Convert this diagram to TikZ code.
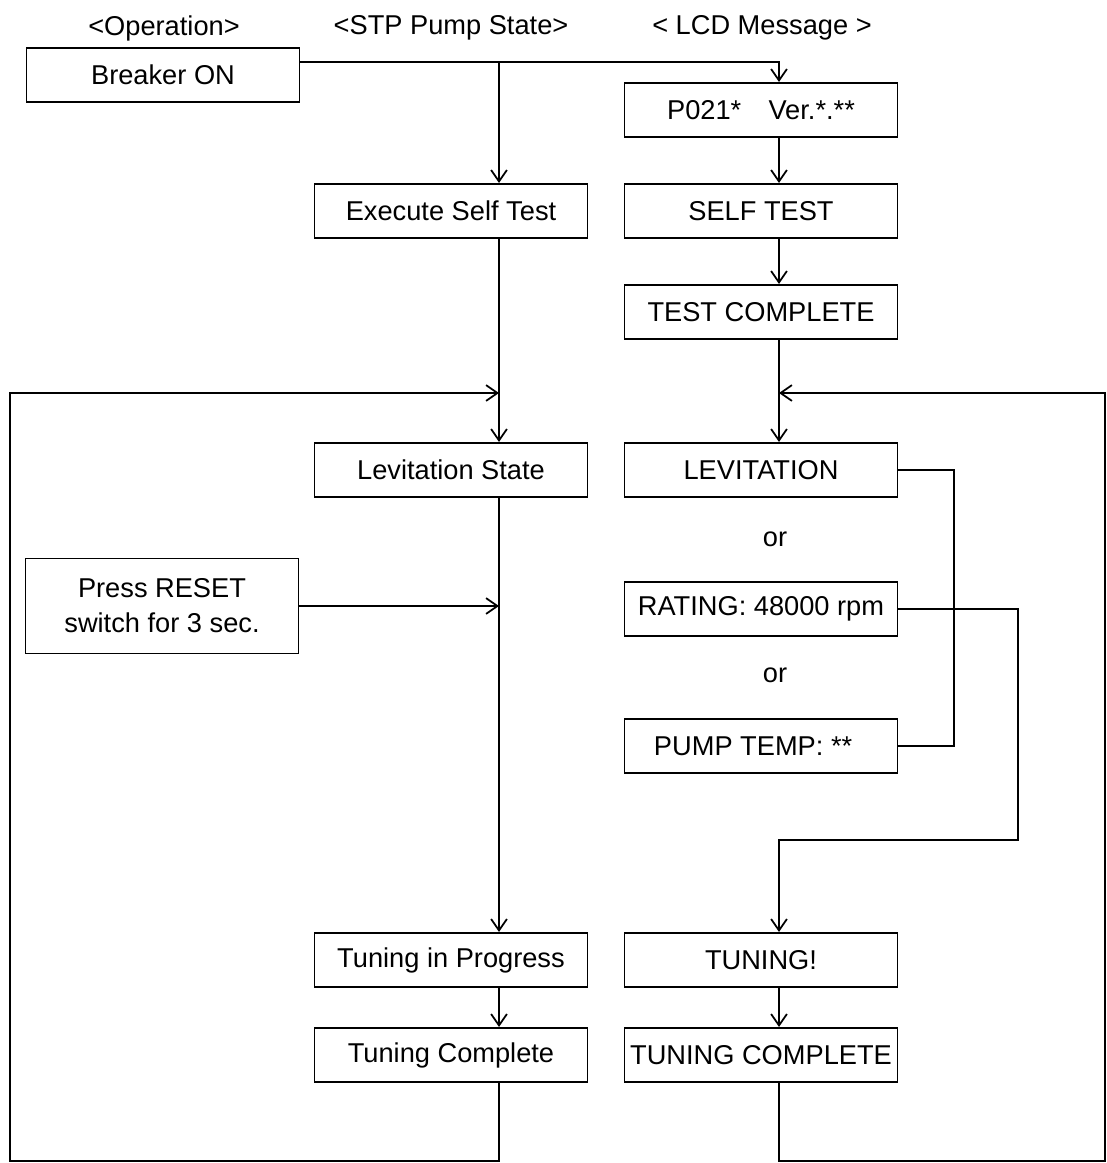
\documentclass[tikz,border=0pt]{standalone}
\usepackage{fontspec}
\setmainfont{Liberation Sans}
\usepackage{tikz}
\usetikzlibrary{arrows.meta, positioning, calc}

\begin{document}
\begin{tikzpicture}[x=0.02cm, y=-0.02cm, line width=1pt,
    font=\fontsize{15.5}{20}\selectfont,
    box/.style={draw, line width=0.9pt, minimum width=5.46cm, minimum height=1.09cm, inner sep=0pt, align=center},
    arr/.style={-{Straight Barb[length=6.5pt,width=9pt]}}]
  \useasboundingbox (0,0) rectangle (1106,1163);
  % column headers
  \node (hop)  at (164,28) {<Operation>};
  \node (hstp) at (451,28) {<STP Pump State>};
  \node (hlcd) at (762,28) {< LCD Message >};
  % operation
  \node[box] (breaker) at (163,75) {Breaker ON};
  \node[box, minimum height=1.9cm] (reset) at (162,606) {Press RESET\\switch for 3 sec.};
  % pump state
  \node[box] (opself)   at (451,211) {Execute Self Test};
  \node[box] (levstate) at (451,470) {Levitation State};
  \node[box] (tuneprog) at (451,960) {Tuning in Progress};
  \node[box] (tunedone) at (451,1055) {Tuning Complete};
  % lcd message
  \node[box] (p021)     at (761,110) {P021*\quad Ver.*.**};
  \node[box] (selftest) at (761,211) {SELF TEST};
  \node[box] (testdone) at (761,312) {TEST COMPLETE};
  \node[box] (levmsg)   at (761,470) {LEVITATION};
  \node (or1) at (775,539) {or};
  \node[box] (rating)   at (761,609) {RATING: 48000 rpm};
  \node (or2) at (775,675) {or};
  \node[box] (pumptemp) at (761,746) {PUMP TEMP: **\hspace*{9pt}};
  \node[box] (tunemsg)  at (761,960) {TUNING!};
  \node[box] (tunemsgdone) at (761,1055) {TUNING COMPLETE};

  \coordinate (lcol) at (499,0);
  \coordinate (rcol) at (779,0);
  \coordinate (bline) at (0,62);
  \coordinate (fb) at (0,393);
  \coordinate (bot) at (0,1161);
  \coordinate (lside) at (10,0);
  \coordinate (rside) at (1105,0);
  \coordinate (ratjog) at (1018,840);

  \draw[arr] (breaker.east |- bline) -| (rcol |- p021.north);
  \draw[arr] (lcol |- bline) -- (lcol |- opself.north);
  \draw[arr] (rcol |- p021.south) -- (rcol |- selftest.north);
  \draw[arr] (rcol |- selftest.south) -- (rcol |- testdone.north);
  \draw[arr] (lcol |- opself.south) -- (lcol |- levstate.north);
  \draw[arr] (rcol |- testdone.south) -- (rcol |- levmsg.north);
  \draw[arr] (lcol |- levstate.south) -- (lcol |- tuneprog.north);
  \draw[arr] (reset.east) -- (lcol |- reset.east);
  \draw (levmsg.east) -- ++(56,0) |- (pumptemp.east);
  \draw[arr] (rating.east) -| (ratjog) -| (rcol |- tunemsg.north);
  \draw[arr] (lcol |- tuneprog.south) -- (lcol |- tunedone.north);
  \draw[arr] (rcol |- tunemsg.south) -- (rcol |- tunemsgdone.north);
  % loops back to levitation
  \draw[arr] (lcol |- tunedone.south) |- (lside |- bot) |- (lcol |- fb);
  \draw[arr] (rcol |- tunemsgdone.south) |- (rside |- bot) |- (rcol |- fb);
\end{tikzpicture}
\end{document}
